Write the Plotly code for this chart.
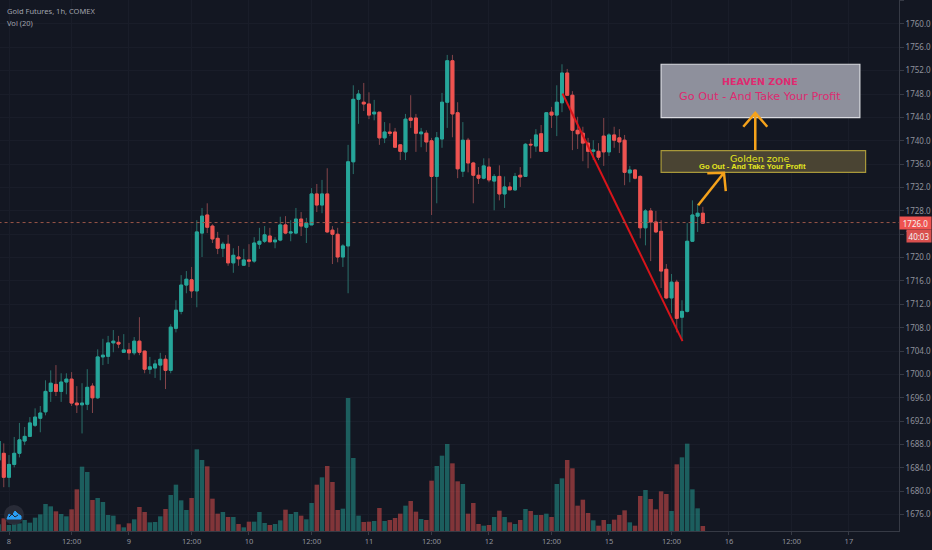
"""
    Gold Futures 1h candles with volume, zones and arrows drawn on top.
"""

import plotly.graph_objects as go

BG = '#131722'
GRID = '#191d29'
AXIS = '#363a45'
TEXT = '#8f929c'
UP = '#26a69a'
DOWN = '#ef5350'
UP_DIM = '#2a6f6a'
DOWN_DIM = '#84454a'

# Hourly bars, the index skips the closed hour so a session is 23 bars
first_bar = -2
opens = [
    1685.3, 1686.5, 1682.4, 1684.6, 1686.5, 1688.6, 1689.4, 1691.3, 1692.5, 1693.6,
    1697.1, 1698.3, 1697.1, 1698.7, 1699.2, 1695.1, 1694.8, 1694.9, 1698.0, 1696.0,
    1703.0, 1703.1, 1705.4, 1705.5, 1703.8, 1704.2, 1703.7, 1705.7, 1704.0, 1700.9,
    1701.1, 1701.6, 1702.6, 1700.7, 1707.9, 1710.8, 1715.3, 1716.2, 1714.3, 1724.2,
    1727.3, 1725.4, 1723.3, 1721.6, 1722.3, 1719.1, 1720.1, 1718.7, 1719.6, 1719.4,
    1722.3, 1722.8, 1723.7, 1722.7, 1723.0, 1725.6, 1724.2, 1724.2, 1726.6, 1725.2,
    1725.6, 1730.9, 1729.0, 1730.9, 1724.7, 1724.0, 1720.1, 1722.0, 1736.4, 1747.1,
    1746.6, 1746.3, 1744.6, 1744.9, 1740.5, 1741.5, 1741.5, 1739.3, 1738.1, 1743.9,
    1743.9, 1741.2, 1741.3, 1740.0, 1733.9, 1740.3, 1746.6, 1753.7, 1744.8, 1734.8,
    1740.1, 1736.2, 1734.1, 1733.6, 1735.5, 1733.1, 1733.9, 1730.9, 1732.1, 1731.6,
    1734.1, 1733.9, 1739.4, 1739.1, 1741.2, 1738.2, 1744.9, 1744.4, 1746.5, 1751.6,
    1747.8, 1741.8, 1741.3, 1739.6, 1738.2, 1738.2, 1740.8, 1738.1, 1741.0, 1740.5,
    1740.1, 1734.5, 1735.0, 1733.9, 1725.1, 1728.0, 1726.1, 1724.5, 1718.0, 1713.1,
    1715.8, 1709.8, 1710.8, 1722.8, 1727.1, 1727.6,
]
highs = [
    1690.1, 1688.2, 1686.2, 1689.3, 1691.7, 1691.0, 1692.7, 1694.2, 1694.6, 1699.0,
    1700.7, 1701.6, 1700.2, 1700.2, 1700.4, 1698.0, 1698.5, 1700.9, 1698.5, 1704.3,
    1706.1, 1706.6, 1707.6, 1706.6, 1706.9, 1705.4, 1706.4, 1709.8, 1704.0, 1703.0,
    1702.5, 1703.7, 1703.3, 1708.6, 1712.7, 1717.0, 1717.7, 1718.4, 1726.4, 1728.5,
    1729.3, 1725.7, 1724.4, 1722.7, 1723.9, 1721.6, 1722.0, 1721.5, 1722.3, 1723.5,
    1725.1, 1725.4, 1725.1, 1723.5, 1727.0, 1727.1, 1726.4, 1728.5, 1727.8, 1726.8,
    1731.9, 1732.6, 1733.3, 1735.3, 1725.4, 1725.1, 1722.3, 1739.3, 1749.5, 1748.7,
    1749.9, 1748.3, 1747.0, 1744.9, 1743.2, 1743.0, 1742.2, 1739.4, 1744.6, 1747.8,
    1744.6, 1742.2, 1741.8, 1740.5, 1741.5, 1748.2, 1754.7, 1754.7, 1746.6, 1743.2,
    1740.5, 1736.4, 1735.5, 1737.0, 1737.0, 1734.3, 1735.8, 1733.9, 1732.9, 1734.5,
    1735.5, 1739.6, 1740.3, 1742.0, 1742.7, 1744.8, 1745.8, 1749.5, 1753.1, 1752.3,
    1748.5, 1744.1, 1742.4, 1740.5, 1740.1, 1739.6, 1743.9, 1741.3, 1742.4, 1742.0,
    1741.0, 1735.7, 1735.0, 1734.1, 1728.3, 1728.5, 1728.0, 1726.4, 1718.9, 1717.2,
    1716.2, 1712.7, 1725.9, 1729.8, 1729.2, 1728.7,
]
lows = [
    1684.5, 1680.7, 1680.7, 1684.1, 1685.8, 1687.9, 1689.3, 1691.0, 1690.1, 1693.0,
    1695.3, 1696.3, 1695.3, 1696.6, 1694.6, 1693.4, 1689.9, 1693.9, 1693.4, 1695.8,
    1701.6, 1701.8, 1703.8, 1704.5, 1703.7, 1702.5, 1703.3, 1703.3, 1700.2, 1700.1,
    1699.4, 1699.0, 1697.5, 1700.2, 1707.2, 1710.3, 1713.9, 1713.1, 1711.5, 1720.1,
    1724.2, 1722.5, 1720.6, 1720.1, 1718.6, 1717.4, 1718.6, 1718.7, 1718.4, 1719.1,
    1721.5, 1722.5, 1722.7, 1721.6, 1722.8, 1724.0, 1722.8, 1724.0, 1723.7, 1722.5,
    1725.6, 1727.8, 1727.6, 1724.2, 1718.9, 1719.2, 1718.4, 1713.9, 1734.3, 1742.9,
    1745.1, 1743.7, 1743.5, 1739.3, 1739.6, 1740.8, 1738.9, 1736.7, 1736.7, 1742.2,
    1738.1, 1738.9, 1738.1, 1727.3, 1729.3, 1738.8, 1742.2, 1740.6, 1733.6, 1733.8,
    1734.6, 1729.3, 1732.6, 1733.4, 1732.9, 1728.1, 1729.8, 1728.5, 1731.6, 1731.4,
    1732.1, 1733.9, 1737.0, 1738.1, 1738.2, 1738.2, 1742.2, 1740.8, 1744.9, 1747.7,
    1738.4, 1738.6, 1736.5, 1735.3, 1736.7, 1736.7, 1735.7, 1737.4, 1738.8, 1737.9,
    1732.4, 1732.9, 1733.4, 1723.3, 1722.1, 1719.4, 1724.2, 1714.8, 1712.9, 1710.5,
    1707.2, 1705.9, 1710.6, 1722.7, 1724.4, 1725.9,
]
closes = [
    1688.6, 1682.4, 1684.6, 1686.5, 1688.8, 1689.4, 1691.7, 1692.7, 1693.4, 1697.1,
    1698.5, 1697.1, 1698.7, 1699.2, 1695.1, 1694.8, 1695.1, 1697.8, 1696.0, 1703.0,
    1703.3, 1705.4, 1705.7, 1705.2, 1704.2, 1703.7, 1705.7, 1703.8, 1700.9, 1701.3,
    1701.8, 1702.6, 1700.7, 1708.1, 1711.0, 1715.3, 1716.3, 1714.3, 1724.4, 1727.1,
    1725.2, 1723.2, 1721.6, 1722.3, 1719.1, 1720.4, 1719.8, 1719.6, 1719.4, 1722.5,
    1722.8, 1723.9, 1722.7, 1723.0, 1725.6, 1724.2, 1724.4, 1726.6, 1725.4, 1725.9,
    1730.9, 1729.0, 1730.9, 1724.4, 1724.0, 1720.1, 1722.0, 1736.4, 1747.1, 1748.0,
    1746.3, 1744.4, 1744.9, 1740.5, 1741.5, 1741.3, 1738.9, 1738.2, 1743.7, 1743.5,
    1741.3, 1741.5, 1739.8, 1733.9, 1740.5, 1746.6, 1753.7, 1744.6, 1735.2, 1740.1,
    1736.2, 1734.1, 1733.6, 1735.7, 1733.3, 1733.9, 1730.9, 1732.1, 1731.6, 1733.9,
    1733.8, 1739.4, 1739.3, 1741.0, 1738.2, 1744.8, 1744.4, 1746.6, 1751.6, 1747.8,
    1741.8, 1741.2, 1739.6, 1738.2, 1738.4, 1737.2, 1738.1, 1741.0, 1740.1, 1739.8,
    1734.6, 1735.0, 1733.6, 1725.1, 1728.0, 1726.1, 1724.4, 1717.7, 1713.1, 1715.8,
    1709.6, 1710.8, 1722.8, 1727.3, 1727.6, 1725.9,
]
volumes = [
    20, 38, 18, 23, 23, 33, 25, 40, 50, 81,
    74, 59, 51, 44, 65, 125, 193, 177, 93, 99,
    87, 48, 46, 20, 11, 23, 35, 72, 57, 26,
    27, 44, 66, 108, 139, 92, 63, 99, 245, 213,
    194, 97, 52, 57, 42, 42, 21, 11, 28, 28,
    57, 24, 18, 21, 32, 64, 51, 57, 46, 35,
    84, 139, 161, 195, 147, 63, 67, 399, 219, 46,
    27, 28, 30, 69, 30, 33, 39, 52, 76, 90,
    58, 36, 33, 151, 195, 226, 261, 203, 149, 141,
    52, 84, 21, 16, 18, 42, 61, 42, 26, 21,
    33, 66, 60, 48, 48, 52, 42, 141, 158, 213,
    188, 76, 94, 54, 32, 16, 33, 21, 34, 48,
    62, 26, 16, 105, 123, 96, 65, 119, 111, 60,
    200, 221, 262, 125, 68, 15,
]

tick_bars = [0, 12, 23, 35, 46, 58, 69, 81, 92, 104, 115, 127, 138, 150, 161]
tick_labels = ['8', '12:00', '9', '12:00', '10', '12:00', '11', '12:00',
               '12', '12:00', '15', '12:00', '16', '12:00', '17']

last_price = 1726.0
countdown = '40:03'
countdown_price = 1723.7

# Drawings, in bar index and price
trend_bars = [106.1, 129.1]
trend_prices = [1748.1, 1705.7]
heaven_box = (125.0, 163.1, 1743.95, 1753.1)
golden_box = (125.0, 164.2, 1734.6, 1738.3)
up_arrow_bars = [143.05, 143.05]
up_arrow_prices = [1738.4, 1744.76]
up_head_bars = [140.75, 143.05, 145.35]
up_head_prices = [1742.41, 1744.76, 1742.41]
slant_arrow_bars = [132.1, 137.05]
slant_arrow_prices = [1728.95, 1734.53]
slant_head_bars = [133.85, 137.05, 137.4]
slant_head_prices = [1734.43, 1734.53, 1731.4]

bars = [first_bar + i for i in range(len(opens))]
body_tops = [max(o, c) for o, c in zip(opens, closes)]
body_bottoms = [min(o, c) for o, c in zip(opens, closes)]
volume_colors = ['rgba(38,166,154,0.5)' if c >= o else 'rgba(239,83,80,0.5)'
                 for o, c in zip(opens, closes)]

fig = go.Figure()

fig.add_trace(go.Bar(
    x=bars, y=volumes, yaxis='y2', width=0.86,
    marker=dict(color=volume_colors, line=dict(width=0)),
))
# Wicks are dimmer than the bodies, so two candlestick layers
fig.add_trace(go.Candlestick(
    x=bars, open=opens, high=highs, low=lows, close=closes, whiskerwidth=0,
    increasing=dict(line=dict(color=UP_DIM, width=1), fillcolor=UP),
    decreasing=dict(line=dict(color=DOWN_DIM, width=1), fillcolor=DOWN),
))
fig.add_trace(go.Candlestick(
    x=bars, open=opens, high=body_tops, low=body_bottoms, close=closes, whiskerwidth=0,
    increasing=dict(line=dict(color=UP, width=1), fillcolor=UP),
    decreasing=dict(line=dict(color=DOWN, width=1), fillcolor=DOWN),
))

# Between grid and traces so the arrows stay visible over the boxes
for box, fill, edge in [
    (heaven_box, '#8e909c', '#d9dae0'),
    (golden_box, '#4a4433', '#a8983a'),
]:
    fig.add_shape(type='rect', x0=box[0], x1=box[1], y0=box[2], y1=box[3],
                  xref='x', yref='y', fillcolor=fill,
                  line=dict(color=edge, width=1.2), layer='between')

fig.add_shape(type='line', x0=bars[0], x1=175, y0=last_price, y1=last_price,
              xref='x', yref='y', line=dict(color='#9a5548', width=1, dash='dot'),
              layer='above')

fig.add_trace(go.Scatter(
    x=trend_bars, y=trend_prices, mode='lines',
    line=dict(color='#d8141a', width=2),
))
for xs, ys in [
    (up_arrow_bars, up_arrow_prices),
    (up_head_bars, up_head_prices),
    (slant_arrow_bars, slant_arrow_prices),
    (slant_head_bars, slant_head_prices),
]:
    fig.add_trace(go.Scatter(
        x=xs, y=ys, mode='lines',
        line=dict(color='#f5a21b', width=2.5),
    ))


def add_label(text, bar, price, size, color, family='DejaVu Sans'):
    fig.add_annotation(x=bar, y=price, xref='x', yref='y', text=text, showarrow=False,
                       font=dict(family=family, size=size, color=color))


add_label('<b>HEAVEN ZONE</b>', 144.0, 1750.07, 9.5, '#df2a70')
add_label('Go Out - And Take Your Profit', 144.0, 1747.5, 11.25, '#df2a70')
add_label('Golden zone', 144.05, 1737.05, 9.5, '#e4e61e')
add_label('<b>Go Out - And Take Your Profit</b>', 142.6, 1735.6, 7.6, '#e4e61e',
          family='Liberation Sans')

for text, top_px in [('Gold Futures, 1h, COMEX', 11), ('Vol (20)', 23)]:
    fig.add_annotation(x=5 / 899, y=1 - top_px / 531, xref='paper', yref='paper',
                       xanchor='left', yanchor='middle', text=text, showarrow=False,
                       font=dict(family='Noto Sans', size=7.5, color='#a0a3ad'))

# Price and countdown tags sit in the right margin
fig.add_annotation(x=1, y=last_price, xref='paper', yref='y', xanchor='left',
                   text=f'{last_price:.1f}', showarrow=False, width=29, height=10,
                   borderpad=1, bgcolor=DOWN,
                   font=dict(family='Noto Sans', size=8, color='#f4f4f4'))
fig.add_annotation(x=1, y=countdown_price, xref='paper', yref='y', xanchor='left',
                   xshift=7, text=countdown, showarrow=False, width=22, height=10,
                   borderpad=1, bgcolor='#d9504e',
                   font=dict(family='Noto Sans', size=8, color='#f4f4f4'))

# Logo in the corner
fig.add_shape(type='circle', xref='paper', yref='paper',
              xsizemode='pixel', ysizemode='pixel',
              xanchor=14 / 899, yanchor=1 - 515 / 531,
              x0=-10, x1=10, y0=-10, y1=10,
              fillcolor='rgba(42,46,57,0.92)', line=dict(width=0), layer='above')
fig.add_shape(type='path', xref='paper', yref='paper',
              xsizemode='pixel', ysizemode='pixel',
              xanchor=14 / 899, yanchor=1 - 515 / 531,
              path='M -7 -4 L -5 1 L -2 -1 L 1 4 L 4 1 L 7 -1 L 7 -4 Z',
              fillcolor='#2a9df4', line=dict(color='#2a9df4', width=1), layer='above')
fig.add_shape(type='path', xref='paper', yref='paper',
              xsizemode='pixel', ysizemode='pixel',
              xanchor=14 / 899, yanchor=1 - 515 / 531,
              path='M -5 -2 L -2 1 L 1 -2 L 4 0',
              line=dict(color='#20242f', width=1), layer='above')

fig.update_layout(
    width=932,
    height=550,
    margin=dict(l=0, r=33, t=0, b=19, autoexpand=False),
    plot_bgcolor=BG,
    paper_bgcolor=BG,
    showlegend=False,
    boxgap=0.2,
    xaxis=dict(
        range=[-1.725, 170.6],
        rangeslider=dict(visible=False),
        tickmode='array',
        tickvals=tick_bars,
        ticktext=tick_labels,
        ticks='outside',
        ticklen=3,
        tickcolor=AXIS,
        tickfont=dict(family='Noto Sans', size=7.5, color=TEXT),
        gridcolor=GRID,
        gridwidth=1,
        showline=True,
        linecolor=AXIS,
        zeroline=False,
    ),
    yaxis=dict(
        side='right',
        range=[1673.2, 1764.1],
        tick0=1676,
        dtick=4,
        tickformat='.1f',
        ticks='outside',
        ticklen=4,
        tickcolor=AXIS,
        tickfont=dict(family='Noto Sans', size=8, color=TEXT),
        gridcolor=GRID,
        gridwidth=1,
        showline=True,
        linecolor=AXIS,
        zeroline=False,
    ),
    yaxis2=dict(
        overlaying='y',
        range=[0, 1593],
        visible=False,
    ),
)

# The page's default body margin would push the figure off the window
fig.write_html(
    "out.html",
    config=dict(displayModeBar=False),
    post_script="document.body.style.margin = '0'; document.body.style.background = '#131722';",
)
